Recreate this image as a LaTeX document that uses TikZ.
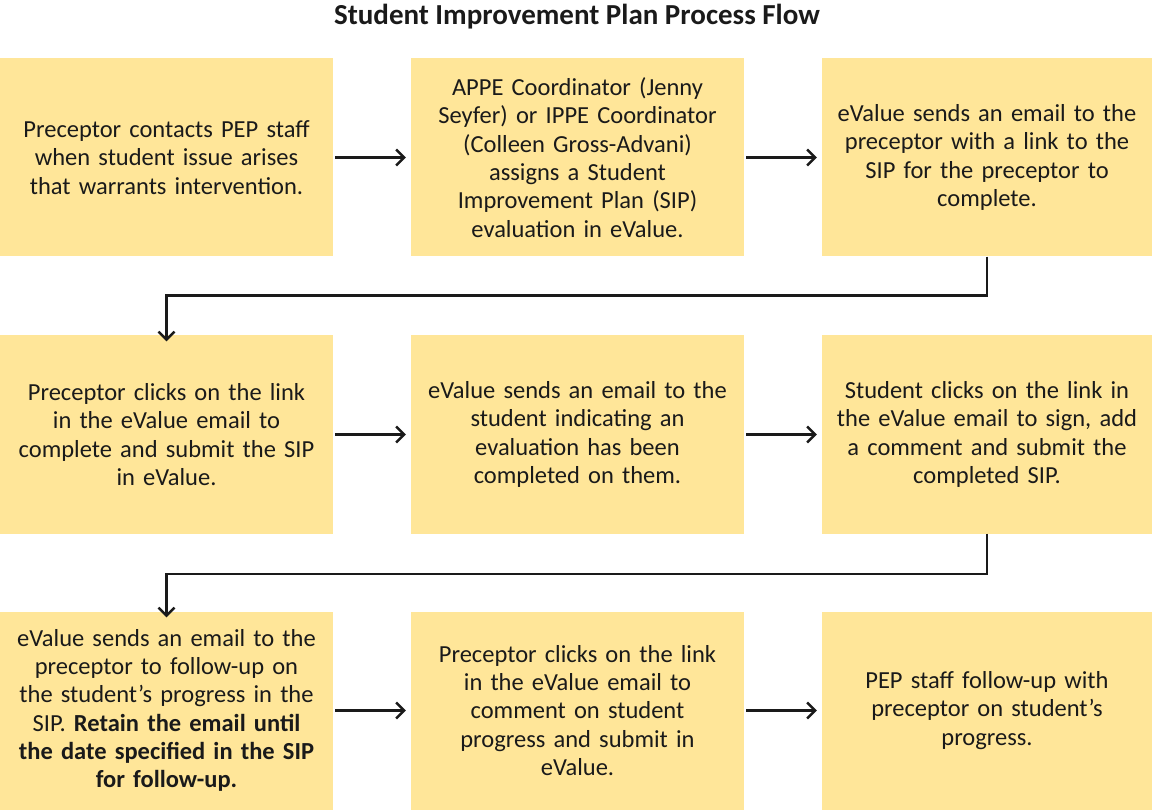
\documentclass[tikz,border=0pt]{standalone}
\usepackage{fontspec}
\setmainfont{Carlito}
\usetikzlibrary{arrows.meta}
\definecolor{boxfill}{HTML}{FFE699}
\definecolor{ink}{HTML}{1A1A1A}
\begin{document}
\begin{tikzpicture}[x=1pt,y=-1pt,
  stepbox/.style={fill=boxfill, draw=none, minimum width=333pt, minimum height=198pt,
    text width=325pt, align=center, inner sep=0pt, text=ink,
    font=\fontsize{24.5}{28.3}\selectfont},
  flow/.style={draw=ink, line width=2.4pt, -{Straight Barb[length=8pt,width=16pt,line width=2.4pt]}}]
\useasboundingbox (0,0) rectangle (1152,810);

\node[font=\bfseries\fontsize{29}{32}\selectfont, text=ink] (title) at (577,17) {Student Improvement Plan Process Flow};

% Row 1
\node[stepbox] (a1) at (166.5,157.5) {Preceptor contacts PEP staff\\when student issue arises\\that warrants intervention.};
\node[stepbox] (a2) at (577.5,157.5) {APPE Coordinator (Jenny\\Seyfer) or IPPE Coordinator\\(Colleen Gross-Advani)\\assigns a Student\\Improvement Plan (SIP)\\evaluation in eValue.};
\node[stepbox, minimum width=330pt] (a3) at (987,157.5) {eValue sends an email to the\\preceptor with a link to the\\SIP for the preceptor to\\complete.};

% Row 2
\node[stepbox] (b1) at (166.5,434.5) {Preceptor clicks on the link\\in the eValue email to\\complete and submit the SIP\\in eValue.};
\node[stepbox] (b2) at (577.5,434.5) {eValue sends an email to the\\student indicating an\\evaluation has been\\completed on them.};
\node[stepbox, minimum width=330pt] (b3) at (987,434.5) {Student clicks on the link in\\the eValue email to sign, add\\a comment and submit the\\completed SIP.};

% Row 3
\node[stepbox] (c1) at (166.5,710.5) {eValue sends an email to the\\preceptor to follow-up on\\the student’s progress in the\\SIP. \textbf{Retain the email until}\\\textbf{the date specified in the SIP}\\\textbf{for follow-up.}};
\node[stepbox] (c2) at (577.5,710.5) {Preceptor clicks on the link\\in the eValue email to\\comment on student\\progress and submit in\\eValue.};
\node[stepbox, minimum width=330pt] (c3) at (987,710.5) {PEP staff follow-up with\\preceptor on student’s\\progress.};

% Horizontal connectors
\draw[flow] ([xshift=2pt]a1.east) -- ([xshift=-5pt]a2.west);
\draw[flow] ([xshift=2pt]a2.east) -- ([xshift=-5pt]a3.west);
\draw[flow] ([xshift=2pt]b1.east) -- ([xshift=-5pt]b2.west);
\draw[flow] ([xshift=2pt]b2.east) -- ([xshift=-5pt]b3.west);
\draw[flow] ([xshift=2pt]c1.east) -- ([xshift=-5pt]c2.west);
\draw[flow] ([xshift=2pt]c2.east) -- ([xshift=-5pt]c3.west);

% Row-to-row connectors
\draw[flow] (a3.south) -- ++(0,39) -| ([yshift=-6pt]b1.north);
\draw[flow] (b3.south) -- ++(0,40) -| ([yshift=-6pt]c1.north);
\end{tikzpicture}
\end{document}
